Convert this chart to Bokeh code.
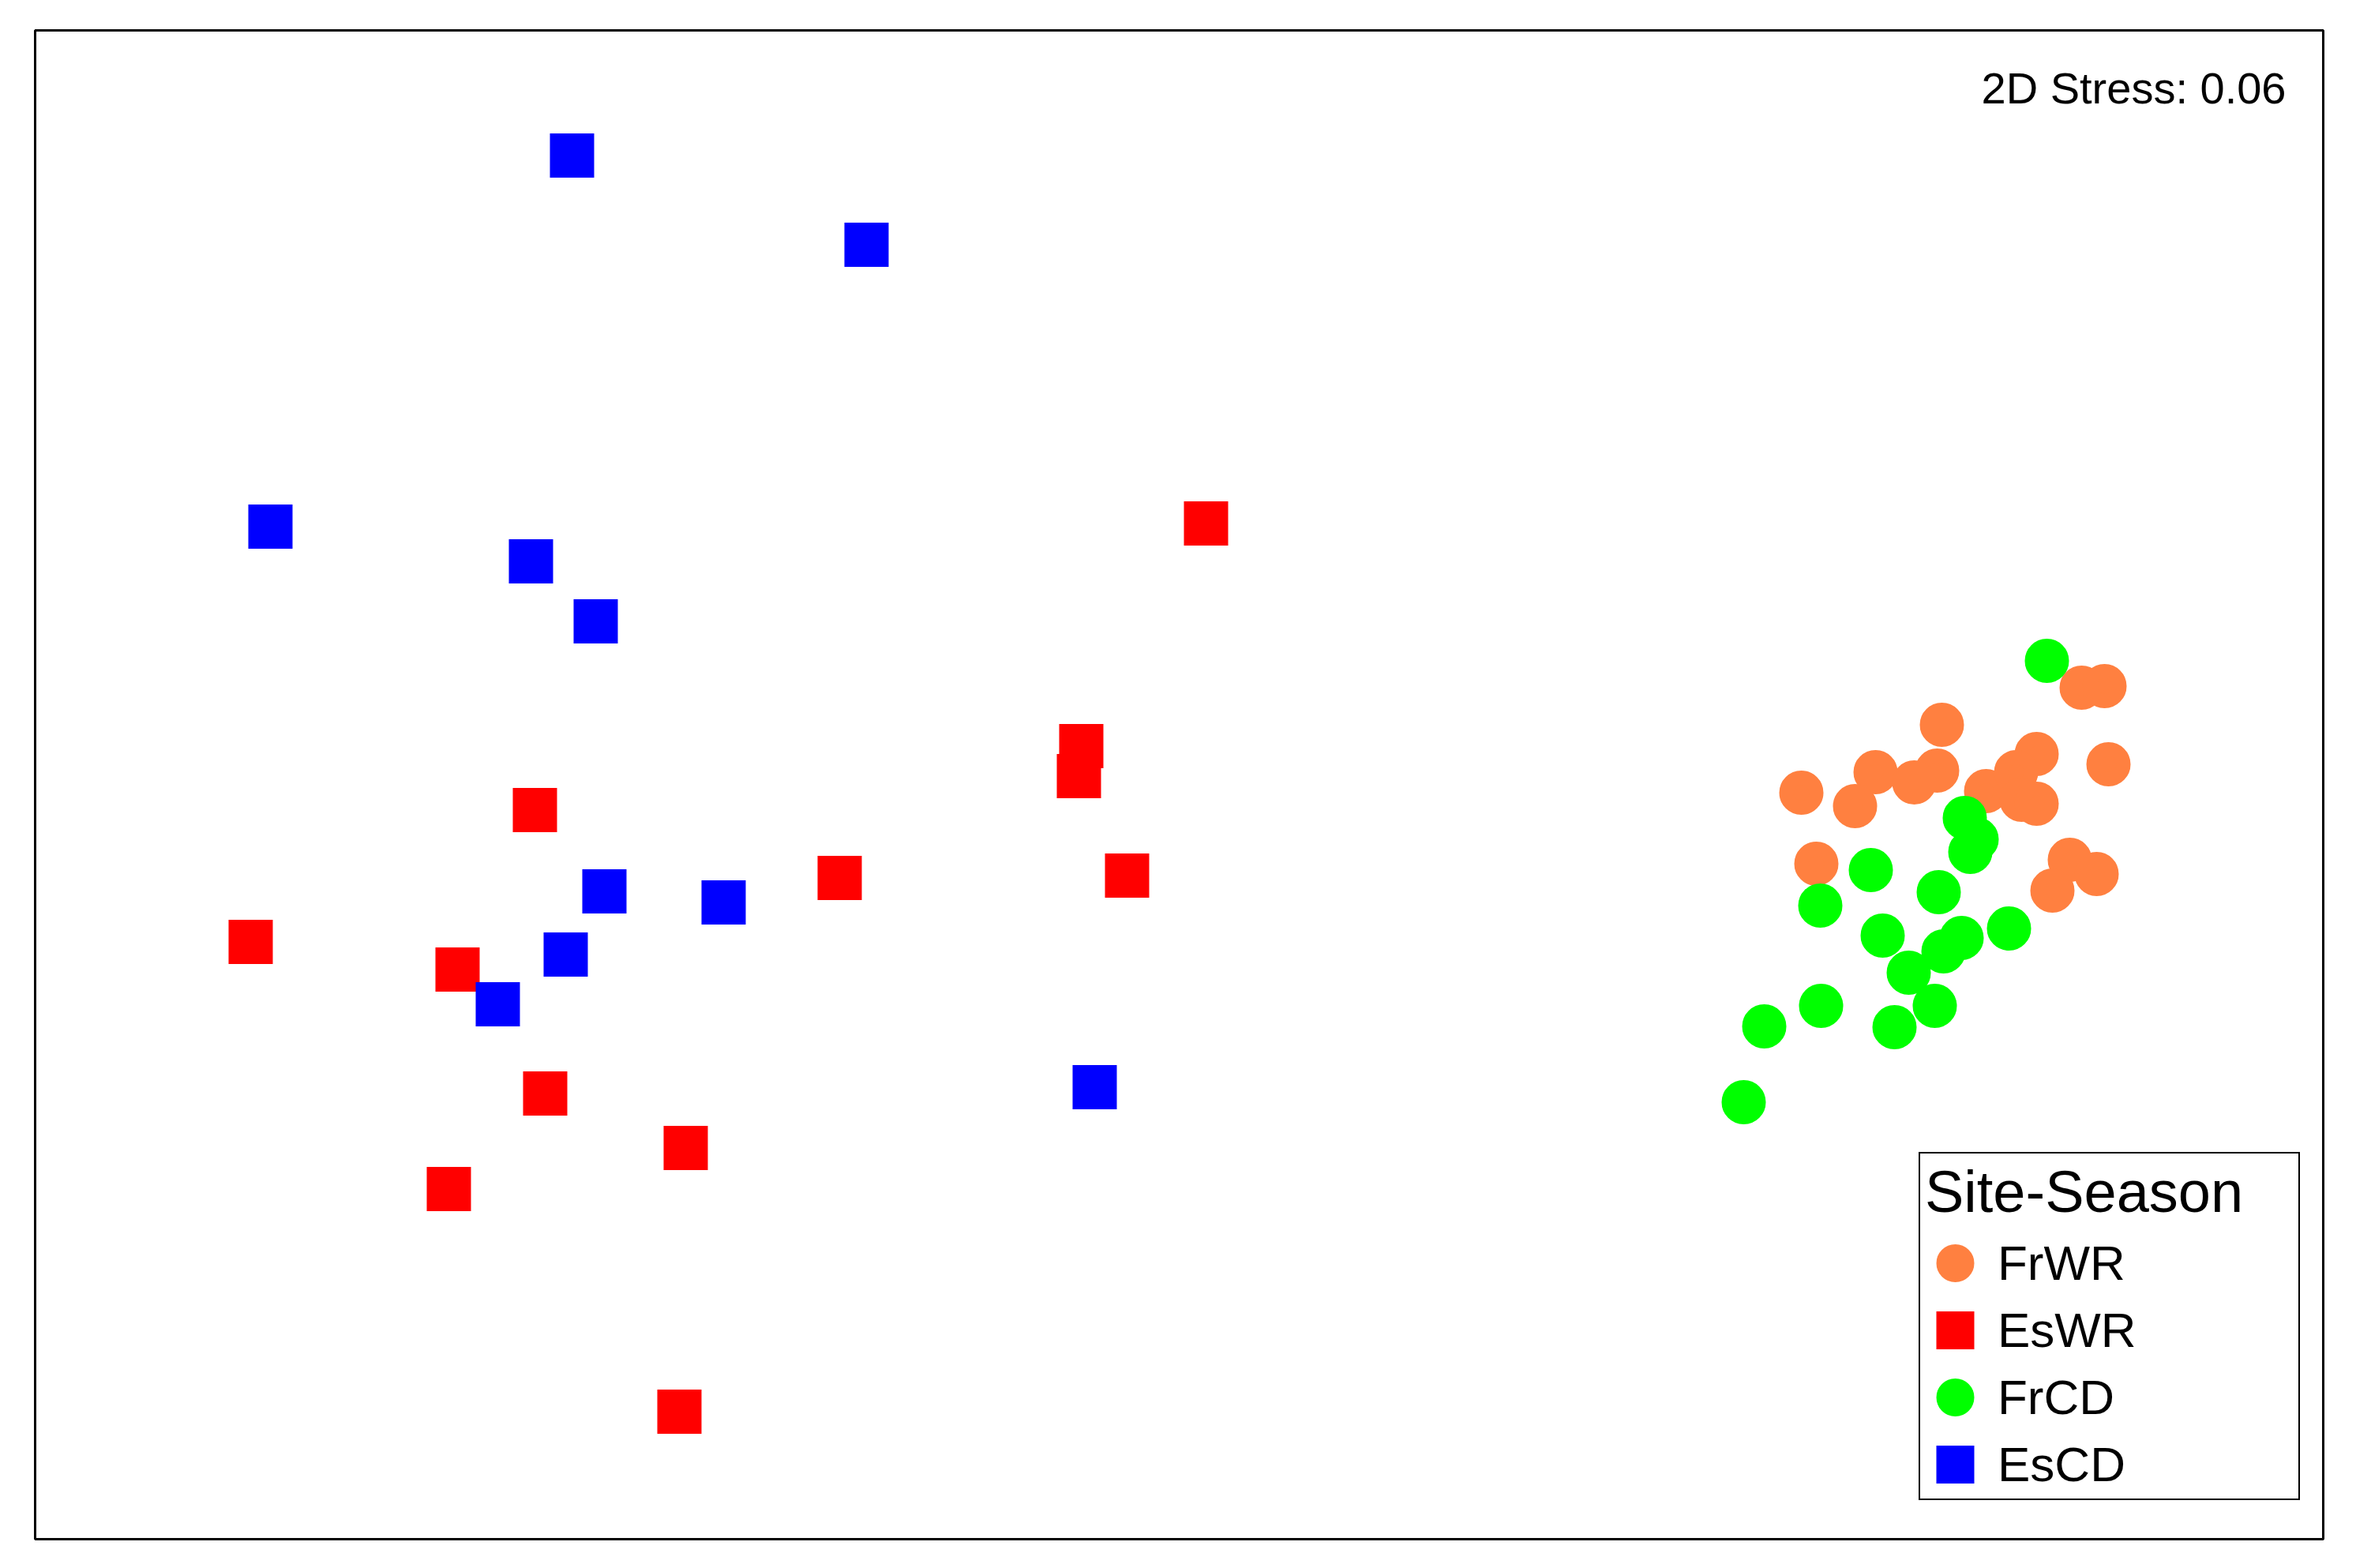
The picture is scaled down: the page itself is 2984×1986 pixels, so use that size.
from bokeh.plotting import figure
from bokeh.models import Range1d, Legend, LegendItem, Label
from bokeh.embed import file_html
from bokeh.resources import INLINE

# NMDS coordinates (arbitrary units)
groups = ["FrWR", "EsWR", "FrCD", "EsCD"]
colors = ["#FF8040", "#FF0000", "#00FF00", "#0000FF"]
markers = ["circle", "square", "circle", "square"]

frwr_x = [1.143, 1.172, 0.966, 1.086, 1.177, 0.882, 0.960, 0.931, 0.788, 1.022,
          1.060, 1.067, 1.086, 0.856, 0.807, 1.128, 1.162, 1.106]
frwr_y = [0.123, 0.125, 0.076, 0.039, 0.026, 0.016, 0.018, 0.003, -0.010, -0.008,
          0.016, -0.019, -0.024, -0.027, -0.100, -0.095, -0.113, -0.134]

eswr_x = [-0.816, -1.176, -0.914, -0.803, -0.625, -0.925, -0.633, 0.034, -0.124,
          -0.127, -0.430, -0.066]
eswr_y = [-0.032, -0.199, -0.234, -0.391, -0.460, -0.512, -0.794, 0.331, 0.049,
          0.011, -0.118, -0.115]

frcd_x = [1.099, 0.995, 1.010, 1.002, 0.876, 0.962, 0.812, 0.891, 0.991, 1.051,
          0.968, 0.924, 0.957, 0.813, 0.741, 0.906, 0.715]
frcd_y = [0.157, -0.042, -0.069, -0.085, -0.108, -0.136, -0.153, -0.191, -0.194,
          -0.182, -0.211, -0.238, -0.280, -0.280, -0.306, -0.307, -0.402]

escd_x = [-0.769, -0.396, -1.151, -0.821, -0.739, -0.728, -0.577, -0.777, -0.863,
          -0.107]
escd_y = [0.797, 0.684, 0.327, 0.283, 0.207, -0.135, -0.149, -0.215, -0.278,
          -0.383]

x_lim = (-1.449, 1.449)
y_lim = (-0.9555, 0.9555)

stress_text = "2D Stress: 0.06"
legend_title = "Site-Season"

series = [(frwr_x, frwr_y), (eswr_x, eswr_y), (frcd_x, frcd_y), (escd_x, escd_y)]

p = figure(width=2966, height=1968, output_backend="svg", toolbar_location=None,
           x_range=Range1d(*x_lim), y_range=Range1d(*y_lim),
           min_border_left=44, min_border_top=38, min_border_right=24,
           min_border_bottom=19, x_axis_location=None, y_axis_location=None)
p.xgrid.visible = False
p.ygrid.visible = False
p.outline_line_color = "black"
p.outline_line_width = 3
p.outline_line_alpha = 1.0
p.background_fill_color = "white"
p.border_fill_color = "white"

items = []
for g, c, m, (xs, ys) in zip(groups, colors, markers, series):
    r = p.scatter(xs, ys, marker=m, size=38, fill_color=c, line_color=c,
                  line_width=18, line_join="miter")
    items.append(LegendItem(label=g, renderers=[r]))

legend = Legend(items=items, location=(2386, 49), title=legend_title,
                border_line_color="black", border_line_width=2, border_line_alpha=1.0,
                background_fill_color="white", background_fill_alpha=1.0,
                padding=6, spacing=10, margin=0,
                glyph_width=76, glyph_height=75, label_standoff=16, label_width=375,
                label_text_font="Liberation Sans", label_text_font_size="62px",
                label_text_color="black",
                title_text_font="Liberation Sans", title_text_font_size="74px",
                title_text_font_style="normal", title_text_color="black",
                title_standoff=10)
p.add_layout(legend)

stress = Label(x=x_lim[1] - 0.047, y=y_lim[1] - 0.073, text=stress_text,
               text_align="right", text_baseline="alphabetic",
               text_font="Liberation Sans", text_font_size="56px", text_color="black")
p.add_layout(stress)

open("out.html", "w").write(file_html(p, INLINE))
